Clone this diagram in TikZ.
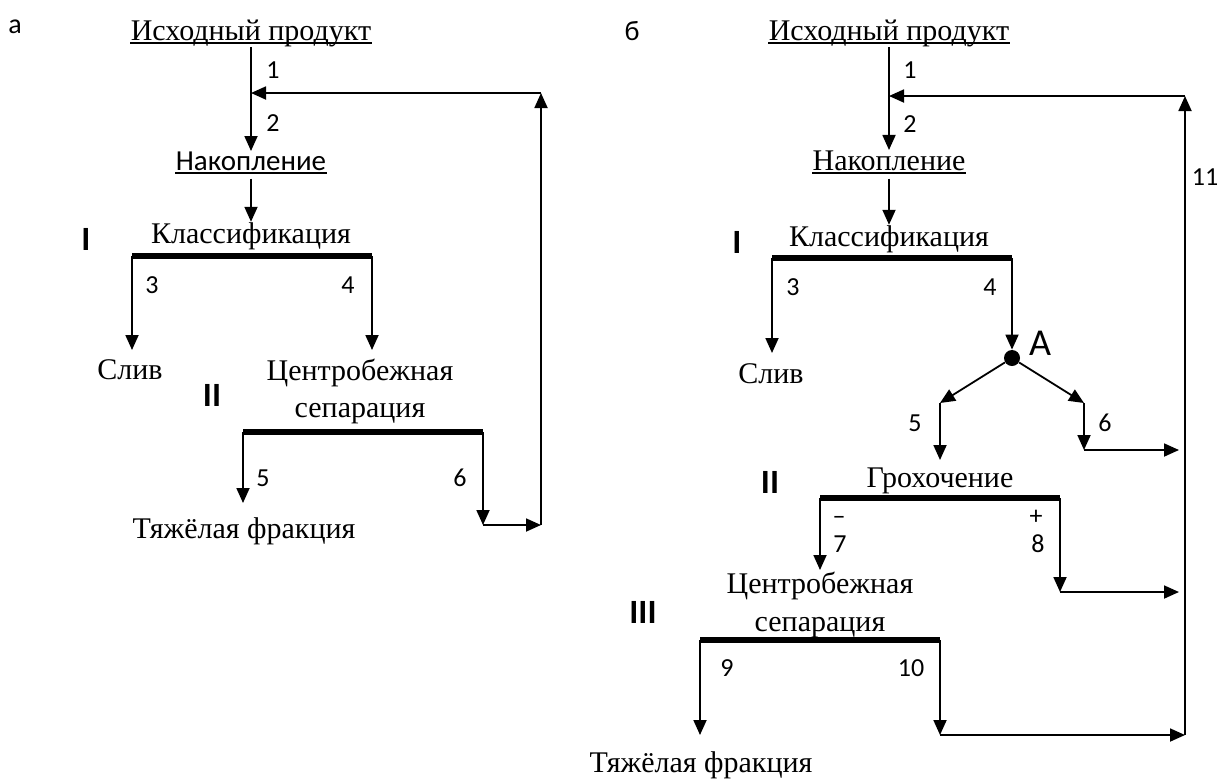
\documentclass[tikz,border=0pt]{standalone}
\usepackage{fontspec}
\setmainfont{Liberation Serif}
\setsansfont{Carlito}
\usetikzlibrary{
    arrows.meta,
    positioning
}
\tikzset{
  proc/.style = {
      inner sep=0pt,
      anchor=base,
      font=\fontsize{15}{17}\selectfont
  },
  sproc/.style = {
      proc,
      font=\sffamily\fontsize{14.5}{17}\selectfont
  },
  num/.style = {
      inner sep=0pt,
      font=\sffamily\fontsize{13}{15}\selectfont
  },
  stage/.style = {
      inner sep=0pt,
      font=\sffamily\bfseries\fontsize{17}{19}\selectfont
  },
  panel/.style = {
      inner sep=0pt,
      font=\sffamily\fontsize{14}{16}\selectfont
  },
  flow/.style = {
      line width=0.9pt,
      -{Triangle[length=7.5pt,width=6.5pt]}
  },
  bar/.style = {
      line width=2.6pt
  },
  uline/.style = {
      line width=0.7pt
  },
  junction/.style = {
      circle,
      fill=black,
      minimum size=8pt,
      inner sep=0pt
  }
}

\begin{document}
\begin{tikzpicture}[x=0.5pt, y=-0.5pt]
    \useasboundingbox (0,0) rectangle (1220,778);
    % Nodes (a)
    \node[panel] (lblA) at (15,27) {а};
    \node[proc] (srcA) at (251,40) {Исходный продукт};
    \node[sproc] (accA) at (251,170) {Накопление};
    \node[proc] (clsA) at (251,243) {Классификация};
    \node[stage] (stA1) at (86,239) {I};
    \node[proc] (drnA) at (130,379) {Слив};
    \node[proc] (cfgA) at (360,380) {Центробежная};
    \node[proc] (cfgA2) at (360,417) {сепарация};
    \node[stage] (stA2) at (212,395) {II};
    \node[proc] (hvyA) at (244,538) {Тяжёлая фракция};
    \node[num] (nA1) at (273,70) {1};
    \node[num] (nA2) at (273,123) {2};
    \node[num] (nA3) at (152,285) {3};
    \node[num] (nA4) at (348,285) {4};
    \node[num] (nA5) at (263,478) {5};
    \node[num] (nA6) at (460,478) {6};
    \coordinate (jA) at (251,93);
    \coordinate (upA) at (541,93);
    \coordinate (b1lA) at (132,256);
    \coordinate (b1rA) at (372,256);
    \coordinate (t3A) at (132,350);
    \coordinate (t4A) at (372,350);
    \coordinate (b2lA) at (243,432);
    \coordinate (b2rA) at (483,432);
    \coordinate (t5A) at (243,503);
    \coordinate (t6A) at (483,525);
    \coordinate (lwA) at (541,525);
    % Edges (a)
    \draw[uline] ([yshift=-1.5pt]srcA.base west) -- ([yshift=-1.5pt]srcA.base east);
    \draw[uline] ([yshift=-1.5pt]accA.base west) -- ([yshift=-1.5pt]accA.base east);
    \draw[flow] (srcA.south) -- (accA.north);
    \draw[flow] (upA) -- (jA);
    \draw[flow] ([yshift=-4pt]accA.south) -- (clsA.north);
    \draw[bar] (b1lA) -- (b1rA);
    \draw[bar] (b2lA) -- (b2rA);
    \draw[flow] (b1lA) -- (t3A);
    \draw[flow] (b1rA) -- (t4A);
    \draw[flow] (b2lA) -- (t5A);
    \draw[flow] (b2rA) -- (t6A);
    \draw[flow] (t6A) -- (lwA);
    \draw[flow] (lwA) -- (upA);

    % Nodes (b)
    \node[panel] (lblB) at (632,31) {б};
    \node[proc] (srcB) at (889,40) {Исходный продукт};
    \node[proc] (accB) at (889,170) {Накопление};
    \node[proc] (clsB) at (889,246) {Классификация};
    \node[stage] (stB1) at (737,242) {I};
    \node[proc] (drnB) at (771,383) {Слив};
    \node[junction] (ptA) at (1012,358) {};
    \node[inner sep=0pt, font=\sffamily\fontsize{19}{21}\selectfont] (lblPt) at (1040,343) {А};
    \node[proc] (scrB) at (940,487) {Грохочение};
    \node[stage] (stB2) at (770,482) {II};
    \node[proc] (cfgB) at (820,593) {Центробежная};
    \node[proc] (cfgB2) at (820,631) {сепарация};
    \node[stage] (stB3) at (643,612) {III};
    \node[proc] (hvyB) at (701,772) {Тяжёлая фракция};
    \node[num] (nB1) at (910,70) {1};
    \node[num] (nB2) at (910,124) {2};
    \node[num] (nB11) at (1205,177) {11};
    \node[num] (nB3) at (793,287) {3};
    \node[num] (nB4) at (990,287) {4};
    \node[num] (nB5) at (915,423) {5};
    \node[num] (nB6) at (1105,423) {6};
    \node[num] (mnB) at (839,520) {–};
    \node[num] (nB7) at (840,544) {7};
    \node[num] (plB) at (1036,517) {+};
    \node[num] (nB8) at (1038,544) {8};
    \node[num] (nB9) at (727,668) {9};
    \node[num] (nB10) at (911,668) {10};
    \coordinate (jB) at (889,96);
    \coordinate (upB) at (1185,96);
    \coordinate (b1lB) at (772,258);
    \coordinate (b1rB) at (1012,258);
    \coordinate (t3B) at (772,353);
    \coordinate (f5B) at (940,403);
    \coordinate (f6B) at (1084,403);
    \coordinate (t5B) at (940,460);
    \coordinate (t6B) at (1084,450);
    \coordinate (r6B) at (1179,450);
    \coordinate (b3lB) at (820,498);
    \coordinate (b3rB) at (1060,498);
    \coordinate (t7B) at (820,570);
    \coordinate (t8B) at (1060,592);
    \coordinate (r8B) at (1179,592);
    \coordinate (b4lB) at (700,640);
    \coordinate (b4rB) at (940,640);
    \coordinate (t9B) at (700,735);
    \coordinate (t10B) at (940,735);
    \coordinate (lwB) at (1185,735);
    % Edges (b)
    \draw[uline] ([yshift=-1.5pt]srcB.base west) -- ([yshift=-1.5pt]srcB.base east);
    \draw[uline] ([yshift=-1.5pt]accB.base west) -- ([yshift=-1.5pt]accB.base east);
    \draw[flow] (srcB.south) -- (accB.north);
    \draw[flow] (upB) -- (jB);
    \draw[flow] ([yshift=-4pt]accB.south) -- (clsB.north);
    \draw[bar] (b1lB) -- (b1rB);
    \draw[bar] (b3lB) -- (b3rB);
    \draw[bar] (b4lB) -- (b4rB);
    \draw[flow] (b1lB) -- (t3B);
    \draw[flow] (b1rB) -- (ptA.north);
    \draw[flow] (ptA) -- (f5B);
    \draw[flow] (ptA) -- (f6B);
    \draw[flow] (f5B) -- (t5B);
    \draw[flow] (f6B) -- (t6B);
    \draw[flow] (t6B) -- (r6B);
    \draw[flow] (b3lB) -- (t7B);
    \draw[flow] (b3rB) -- (t8B);
    \draw[flow] (t8B) -- (r8B);
    \draw[flow] (b4lB) -- (t9B);
    \draw[flow] (b4rB) -- (t10B);
    \draw[flow] (t10B) -- (lwB);
    \draw[flow] (lwB) -- (upB);
\end{tikzpicture}
\end{document}
